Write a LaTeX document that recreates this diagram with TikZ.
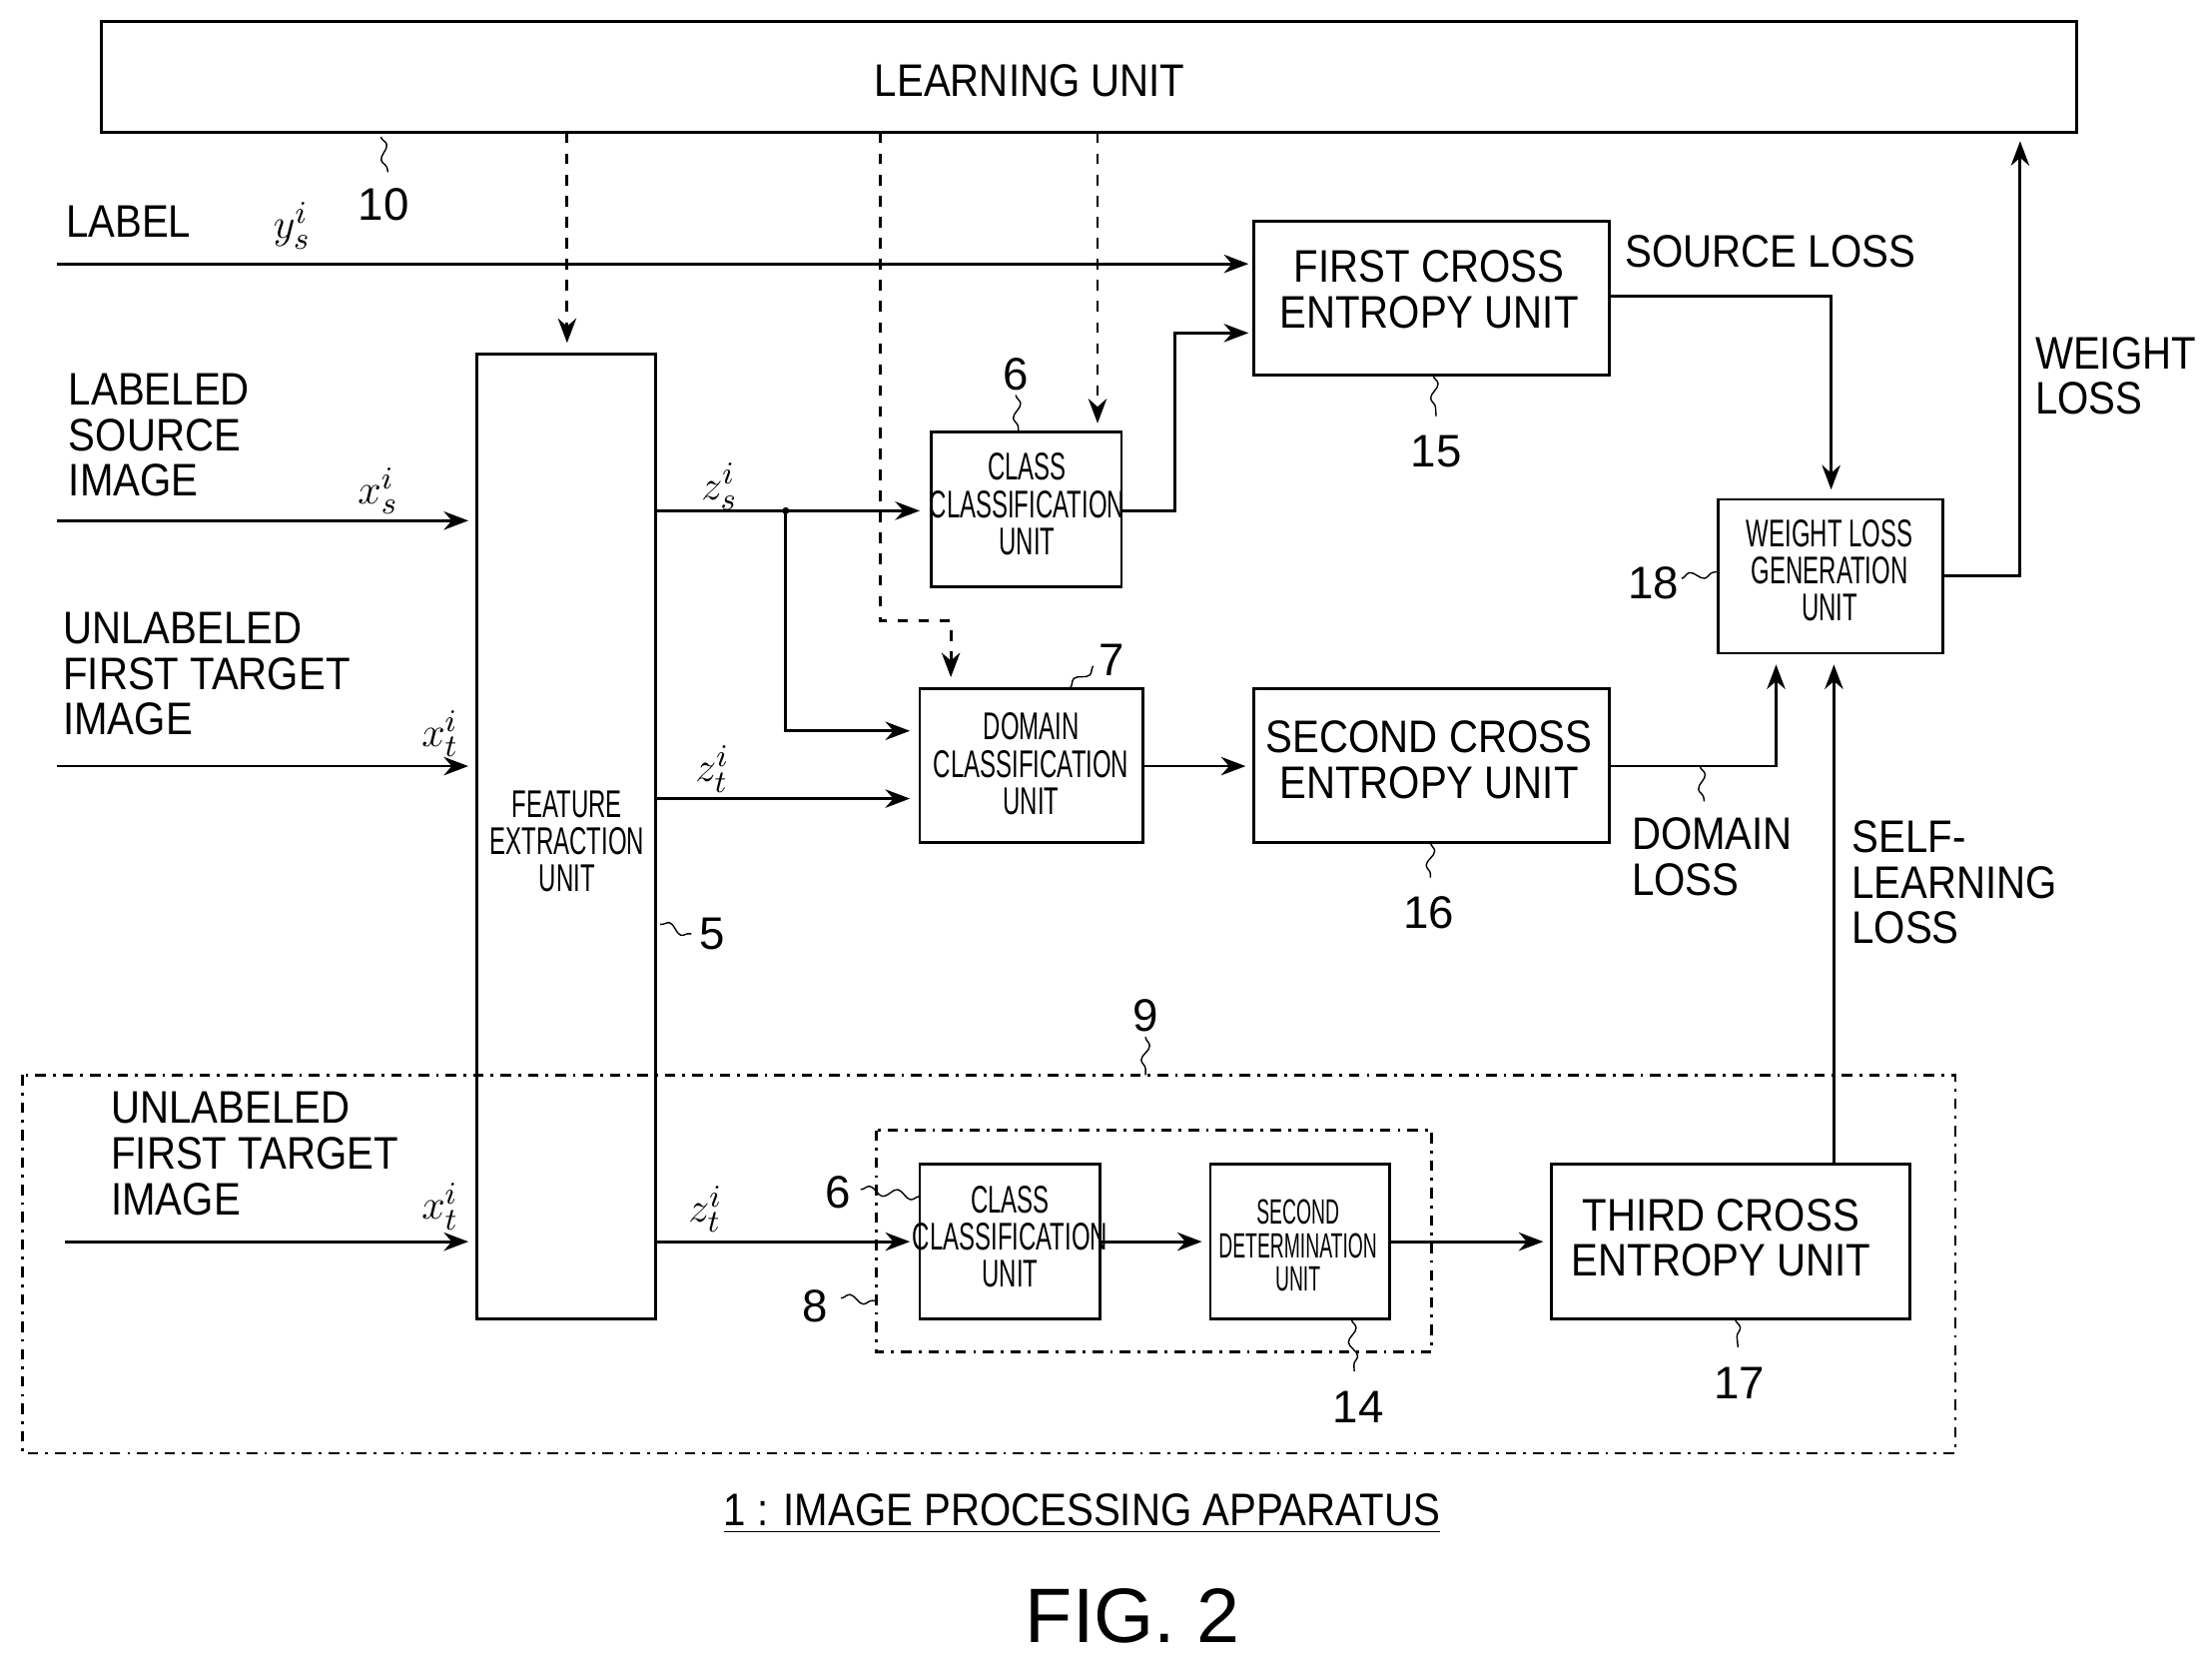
\documentclass[tikz,border=0pt]{standalone}
\usepackage{fontspec}
\setmainfont{Liberation Sans}
\usetikzlibrary{arrows.meta,decorations.pathmorphing}
\newcommand{\cond}[1]{\scalebox{0.62}[1]{\begin{tabular}{@{}c@{}}#1\end{tabular}}}
\newcommand{\slim}[1]{\scalebox{0.88}[1]{\begin{tabular}{@{}l@{}}#1\end{tabular}}}
\newcommand{\slimc}[1]{\scalebox{0.88}[1]{\begin{tabular}{@{}c@{}}#1\end{tabular}}}
\tikzset{
  blk/.style={draw,thick,inner sep=0pt},
  big/.style={font=\fontsize{13}{13}\selectfont,align=center},
  sml/.style={font=\fontsize{11}{10}\selectfont,align=center},
  lbl/.style={font=\fontsize{13}{13}\selectfont,align=left},
  num/.style={font=\fontsize{13}{13}\selectfont},
  sig/.style={thick,-{Stealth[length=7pt]}},
  ctl/.style={thick,dashed,-{Stealth[length=7pt]}},
  dd/.style={thick,dash dot},
  sq/.style={thin,decorate,decoration={snake,amplitude=1.2pt,segment length=8pt}}
}
\begin{document}
\begin{tikzpicture}[x=0.014126cm,y=-0.014126cm]
\useasboundingbox (0,0) rectangle (1568,1182);
% boxes
\draw[blk] (72,15) rectangle (1472,94);
\node[big] (learn) at (730,62) {\slim{LEARNING UNIT}};
\draw[blk] (338,251) rectangle (465,935);
\node[sml] (feat) at (402,600) {\cond{FEATURE\\EXTRACTION\\UNIT}};
\draw[blk] (660,306) rectangle (795,416);
\node[sml] (cls1) at (728,361) {\cond{CLASS\\CLASSIFICATION\\UNIT}};
\draw[blk] (652,488) rectangle (810,597);
\node[sml] (dom) at (731,545) {\cond{DOMAIN\\CLASSIFICATION\\UNIT}};
\draw[blk] (889,157) rectangle (1141,266);
\node[big] (ce1) at (1013,210) {\slimc{FIRST CROSS\\ENTROPY UNIT}};
\draw[blk] (889,488) rectangle (1141,597);
\node[big] (ce2) at (1013,543) {\slimc{SECOND CROSS\\ENTROPY UNIT}};
\draw[blk] (1218,354) rectangle (1377,463);
\node[sml] (wl) at (1297,408) {\cond{WEIGHT LOSS\\GENERATION\\UNIT}};
\draw[blk] (652,825) rectangle (780,935);
\node[sml] (cls2) at (716,880) {\cond{CLASS\\CLASSIFICATION\\UNIT}};
\draw[blk] (858,825) rectangle (985,935);
\node[font=\fontsize{10}{9}\selectfont,align=center] (det) at (920,886) {\scalebox{0.55}[1]{\begin{tabular}{@{}c@{}}SECOND\\DETERMINATION\\UNIT\end{tabular}}};
\draw[blk] (1100,825) rectangle (1354,935);
\node[big] (ce3) at (1220,882) {\slimc{THIRD CROSS\\ENTROPY UNIT}};
\draw[dd] (16,762) rectangle (1386,1030);
\draw[dd] (621,801) rectangle (1015,958);
% inputs
\node[lbl,anchor=west] at (38,162) {\slim{LABEL}};
\node[num] at (207,160) {$y_s^i$};
\draw[sig] (40,187) -- (885,187);
\node[lbl,anchor=west] at (40,313) {\slim{LABELED\\SOURCE\\IMAGE}};
\node[num] at (268,348) {$x_s^i$};
\draw[sig] (40,369) -- (332,369);
\node[lbl,anchor=west] at (36,482) {\slim{UNLABELED\\FIRST TARGET\\IMAGE}};
\node[num] at (312,520) {$x_t^i$};
\draw[sig] (40,543) -- (332,543);
\node[lbl,anchor=west] at (70,822) {\slim{UNLABELED\\FIRST TARGET\\IMAGE}};
\node[num] at (312,855) {$x_t^i$};
\draw[sig] (46,880) -- (332,880);
% features
\node[num] at (510,345) {$z_s^i$};
\draw[sig] (465,362) -- (652,362);
\draw[sig] (557,362) -- (557,518) -- (645,518);
\fill (557,362) circle (2.5);
\node[num] at (505,545) {$z_t^i$};
\draw[sig] (465,566) -- (645,566);
\node[num] at (500,857) {$z_t^i$};
\draw[sig] (465,880) -- (645,880);
% control
\draw[ctl] (402,94) -- (402,243);
\draw[ctl] (778,94) -- (778,300);
\draw[ctl] (624,94) -- (624,440) -- (674,440) -- (674,480);
% losses
\draw[sig] (795,362) -- (833,362) -- (833,236) -- (885,236);
\draw[sig] (810,543) -- (883,543);
\draw[sig] (1141,210) -- (1298,210) -- (1298,347);
\node[big] at (1255,183) {\slim{SOURCE LOSS}};
\draw[sig] (1141,543) -- (1259,543) -- (1259,471);
\node[lbl,anchor=west] at (1148,612) {\slim{DOMAIN\\LOSS}};
\draw[sig] (1300,825) -- (1300,471);
\node[lbl,anchor=west] at (1304,630) {\slim{SELF-\\LEARNING\\LOSS}};
\draw[sig] (1377,408) -- (1432,408) -- (1432,100);
\node[lbl,anchor=west] at (1434,271) {\slim{WEIGHT\\LOSS}};
\draw[sig] (780,880) -- (852,880);
\draw[sig] (985,880) -- (1094,880);
% reference numerals
\node[num] at (272,145) {10}; \draw[sq] (270,97) -- (275,122);
\node[num] at (505,662) {5}; \draw[sq] (468,655) -- (490,662);
\node[num] at (720,265) {6}; \draw[sq] (720,280) -- (722,306);
\node[num] at (788,468) {7}; \draw[sq] (775,472) -- (758,488);
\node[num] at (1018,320) {15}; \draw[sq] (1016,266) -- (1018,295);
\node[num] at (1013,647) {16}; \draw[sq] (1014,597) -- (1014,622);
\node[num] at (1172,413) {18}; \draw[sq] (1192,410) -- (1218,405);
\draw[sq] (1205,543) -- (1208,568);
\node[num] at (812,720) {9}; \draw[sq] (812,735) -- (812,762);
\node[num] at (594,845) {6}; \draw[sq] (610,843) -- (652,848);
\node[num] at (578,926) {8}; \draw[sq] (596,920) -- (621,922);
\node[num] at (963,997) {14}; \draw[sq] (958,935) -- (960,972);
\node[num] at (1233,980) {17}; \draw[sq] (1230,935) -- (1232,955);
% caption
\node[big] (cap) at (767,1073) {\underline{\scalebox{0.88}[1]{1 : IMAGE PROCESSING APPARATUS}}};
\node[font=\fontsize{22}{22}\selectfont] (fig) at (803,1145) {FIG. 2};
\end{tikzpicture}
\end{document}
